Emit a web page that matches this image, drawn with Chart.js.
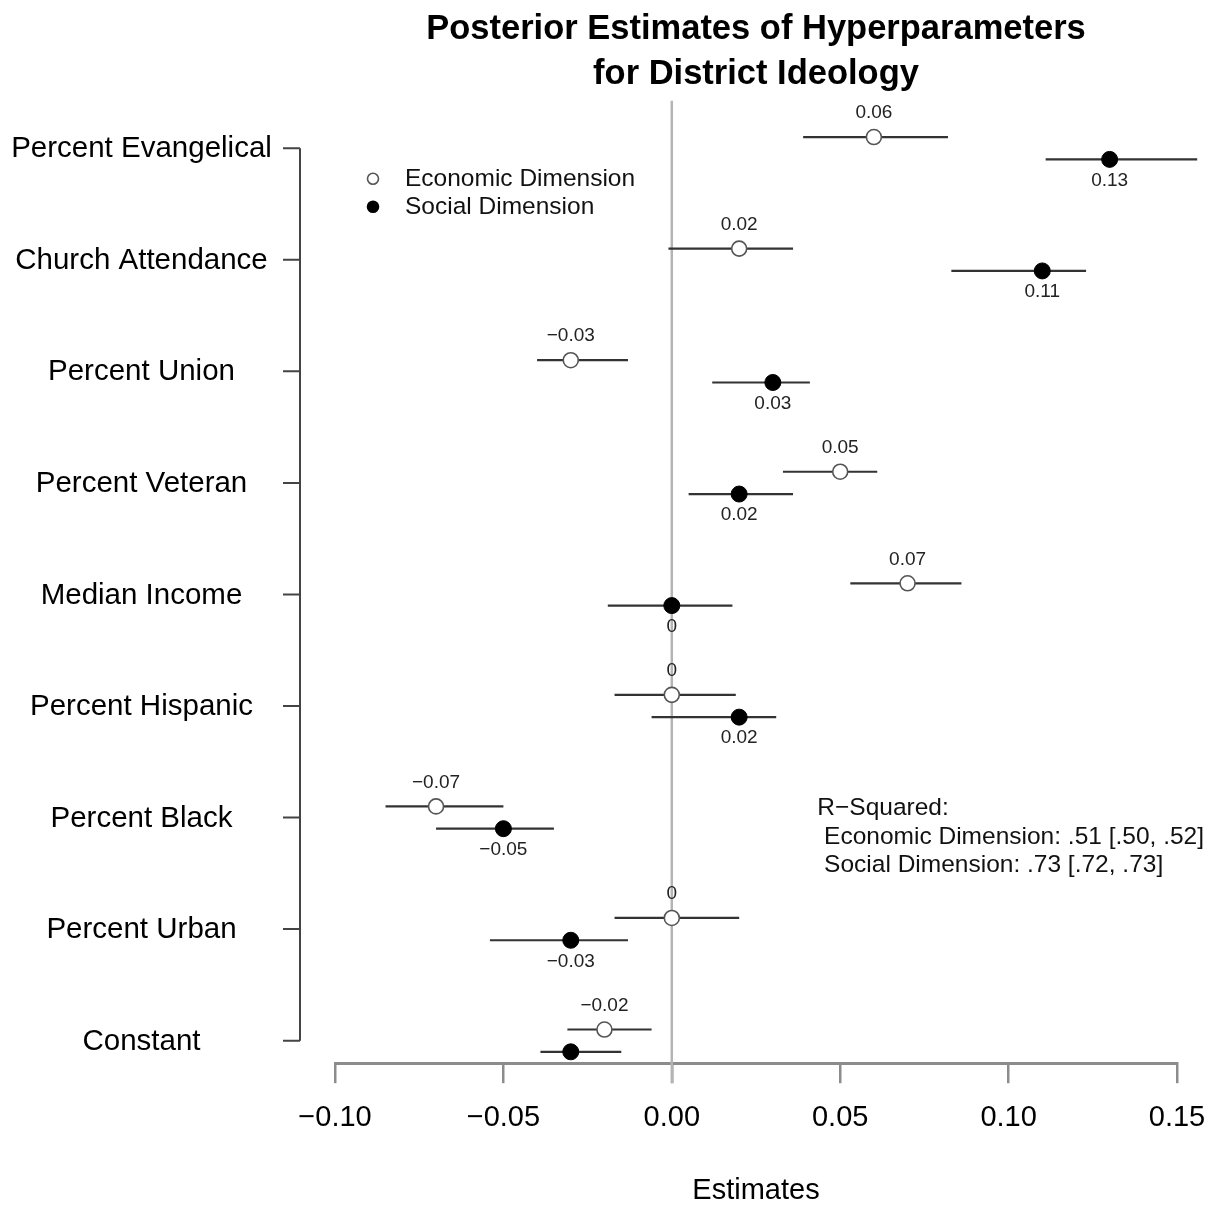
<!DOCTYPE html>
<html>
<head>
<meta charset="utf-8">
<script src="https://cdn.jsdelivr.net/npm/chart.js@4/dist/chart.umd.min.js"></script>
<style>
  html, body { margin: 0; padding: 0; background: #ffffff; }
  #wrap { width: 1217px; height: 1205px; }
</style>
</head>
<body>
<div id="wrap"><canvas id="chart" width="1217" height="1205"></canvas></div>
<script>
// Hyperparameter posterior summaries (point estimate with interval) per covariate
const categories = ['Percent Evangelical', 'Church Attendance', 'Percent Union', 'Percent Veteran',
  'Median Income', 'Percent Hispanic', 'Percent Black', 'Percent Urban', 'Constant'];

const econEst = [0.06, 0.02, -0.03, 0.05, 0.07, 0, -0.07, 0, -0.02];
const econLo  = [0.039, -0.001, -0.040, 0.033, 0.053, -0.017, -0.085, -0.017, -0.031];
const econHi  = [0.082, 0.036, -0.013, 0.061, 0.086, 0.019, -0.050, 0.020, -0.006];

const socEst = [0.13, 0.11, 0.03, 0.02, 0, 0.02, -0.05, -0.03, -0.03];
const socLo  = [0.111, 0.083, 0.012, 0.005, -0.019, -0.006, -0.070, -0.054, -0.039];
const socHi  = [0.156, 0.123, 0.041, 0.036, 0.018, 0.031, -0.035, -0.013, -0.015];

const xTicks = [-0.10, -0.05, 0, 0.05, 0.10, 0.15];
const xTickLabels = ['\u22120.10', '\u22120.05', '0.00', '0.05', '0.10', '0.15'];

const rSquaredLines = ['R\u2212Squared:', ' Economic Dimension: .51 [.50, .52]', ' Social Dimension: .73 [.72, .73]'];

const FONT = '"Liberation Sans", Arial, Helvetica, sans-serif';
const ROW_SHIFT = 0.1; // vertical separation of the two dimensions within a row

function fmtValue(v) {
  if (v === 0) return '0';
  return v.toFixed(2).replace('-', '\u2212');
}

const econPoints = categories.map((c, i) => ({ x: econEst[i], y: i - ROW_SHIFT }));
const socPoints  = categories.map((c, i) => ({ x: socEst[i],  y: i + ROW_SHIFT }));

// Draws interval whiskers, the zero reference line, the bracket-style y axis,
// value labels, the legend and the R-squared note.
const decorations = {
  id: 'decorations',
  beforeDatasetsDraw(chart) {
    const { ctx, chartArea, scales: { x, y } } = chart;
    ctx.save();
    // zero reference line
    ctx.strokeStyle = '#b4b4b4';
    ctx.lineWidth = 2.5;
    ctx.beginPath();
    ctx.moveTo(x.getPixelForValue(0), chartArea.top);
    ctx.lineTo(x.getPixelForValue(0), chartArea.bottom + 20);
    ctx.stroke();

    // intervals
    ctx.strokeStyle = '#333333';
    ctx.lineWidth = 2.2;
    categories.forEach((c, i) => {
      const ye = y.getPixelForValue(i - ROW_SHIFT);
      const ys = y.getPixelForValue(i + ROW_SHIFT);
      ctx.beginPath();
      ctx.moveTo(x.getPixelForValue(econLo[i]), ye);
      ctx.lineTo(x.getPixelForValue(econHi[i]), ye);
      ctx.moveTo(x.getPixelForValue(socLo[i]), ys);
      ctx.lineTo(x.getPixelForValue(socHi[i]), ys);
      ctx.stroke();
    });

    // y axis drawn as a bracket spanning the first to last category
    const axX = chartArea.left - 35;
    const tickL = axX - 17;
    ctx.strokeStyle = '#444444';
    ctx.lineWidth = 2;
    ctx.beginPath();
    ctx.moveTo(axX, y.getPixelForValue(0));
    ctx.lineTo(axX, y.getPixelForValue(categories.length - 1));
    categories.forEach((c, i) => {
      const py = y.getPixelForValue(i);
      ctx.moveTo(tickL, py);
      ctx.lineTo(axX, py);
    });
    ctx.stroke();

    ctx.fillStyle = '#000000';
    ctx.font = '29.5px ' + FONT;
    ctx.textAlign = 'center';
    ctx.textBaseline = 'middle';
    categories.forEach((c, i) => {
      ctx.fillText(c, tickL / 2, y.getPixelForValue(i) + 1);
    });
    ctx.restore();
  },
  afterDatasetsDraw(chart) {
    const { ctx, chartArea, scales: { x, y } } = chart;
    ctx.save();
    // value labels, clipped to the plotting region
    ctx.beginPath();
    ctx.rect(0, chartArea.top, chart.width, chartArea.bottom - chartArea.top);
    ctx.clip();
    ctx.fillStyle = '#222222';
    ctx.font = '19px ' + FONT;
    ctx.textAlign = 'center';
    ctx.textBaseline = 'middle';
    categories.forEach((c, i) => {
      ctx.fillText(fmtValue(econEst[i]), x.getPixelForValue(econEst[i]), y.getPixelForValue(i - ROW_SHIFT) - 24);
      ctx.fillText(fmtValue(socEst[i]), x.getPixelForValue(socEst[i]), y.getPixelForValue(i + ROW_SHIFT) + 21);
    });
    ctx.restore();

    ctx.save();
    // legend
    const lx = chartArea.left + 38;
    const ly = chartArea.top + 78;
    ctx.font = '24.5px ' + FONT;
    ctx.textAlign = 'left';
    ctx.textBaseline = 'middle';
    chart.data.datasets.forEach((ds, k) => {
      const cy = ly + k * 28;
      ctx.beginPath();
      ctx.arc(lx, cy, 5.5, 0, Math.PI * 2);
      ctx.fillStyle = ds.pointBackgroundColor;
      ctx.fill();
      ctx.lineWidth = 1.6;
      ctx.strokeStyle = ds.pointBorderColor;
      ctx.stroke();
      ctx.fillStyle = '#111111';
      ctx.fillText(ds.label, lx + 32, cy + 1);
    });

    // R-squared note
    const nx = x.getPixelForValue(0.0432);
    const ny = y.getPixelForValue(6);
    rSquaredLines.forEach((t, k) => {
      ctx.fillText(t, nx, ny - 9 + k * 28.5);
    });
    ctx.restore();
  }
};

new Chart(document.getElementById('chart'), {
  type: 'scatter',
  data: {
    datasets: [
      {
        label: 'Economic Dimension',
        data: econPoints,
        pointRadius: 7.5,
        pointHoverRadius: 7.5,
        pointBackgroundColor: '#ffffff',
        pointBorderColor: '#555555',
        pointBorderWidth: 1.6,
        clip: false
      },
      {
        label: 'Social Dimension',
        data: socPoints,
        pointRadius: 8,
        pointHoverRadius: 8,
        pointBackgroundColor: '#000000',
        pointBorderColor: '#000000',
        pointBorderWidth: 1,
        clip: false
      }
    ]
  },
  options: {
    responsive: false,
    animation: false,
    events: [],
    layout: { padding: { left: 335, right: 40, top: 0, bottom: 0 } },
    plugins: {
      legend: { display: false },
      tooltip: { enabled: false },
      title: {
        display: true,
        fullSize: false,
        text: ['Posterior Estimates of Hyperparameters', 'for District Ideology'],
        color: '#000000',
        font: { family: FONT, size: 34.5, weight: 'bold', lineHeight: 1.3 },
        padding: { top: 7, bottom: 4 }
      }
    },
    scales: {
      x: {
        type: 'linear',
        min: -0.10,
        max: 0.15,
        afterBuildTicks(scale) {
          scale.ticks = xTicks.map(v => ({ value: v }));
        },
        afterFit(scale) {
          // edge labels fit inside the layout padding already
          scale.paddingLeft = 0;
          scale.paddingRight = 0;
        },
        border: { display: true, color: '#8c8c8c', width: 3 },
        grid: { drawOnChartArea: false, drawTicks: true, tickLength: 20, color: '#8c8c8c', lineWidth: 2.5 },
        ticks: {
          autoSkip: false,
          maxRotation: 0,
          padding: 17,
          color: '#000000',
          font: { family: FONT, size: 29 },
          callback: (v, i) => xTickLabels[i]
        },
        title: {
          display: true,
          text: 'Estimates',
          color: '#000000',
          font: { family: FONT, size: 29, lineHeight: 1.0 },
          padding: { top: 24, bottom: 0 }
        }
      },
      y: {
        type: 'linear',
        min: -0.426,
        max: 8.202,
        reverse: true,
        display: false
      }
    }
  },
  plugins: [decorations]
});
</script>
</body>
</html>
